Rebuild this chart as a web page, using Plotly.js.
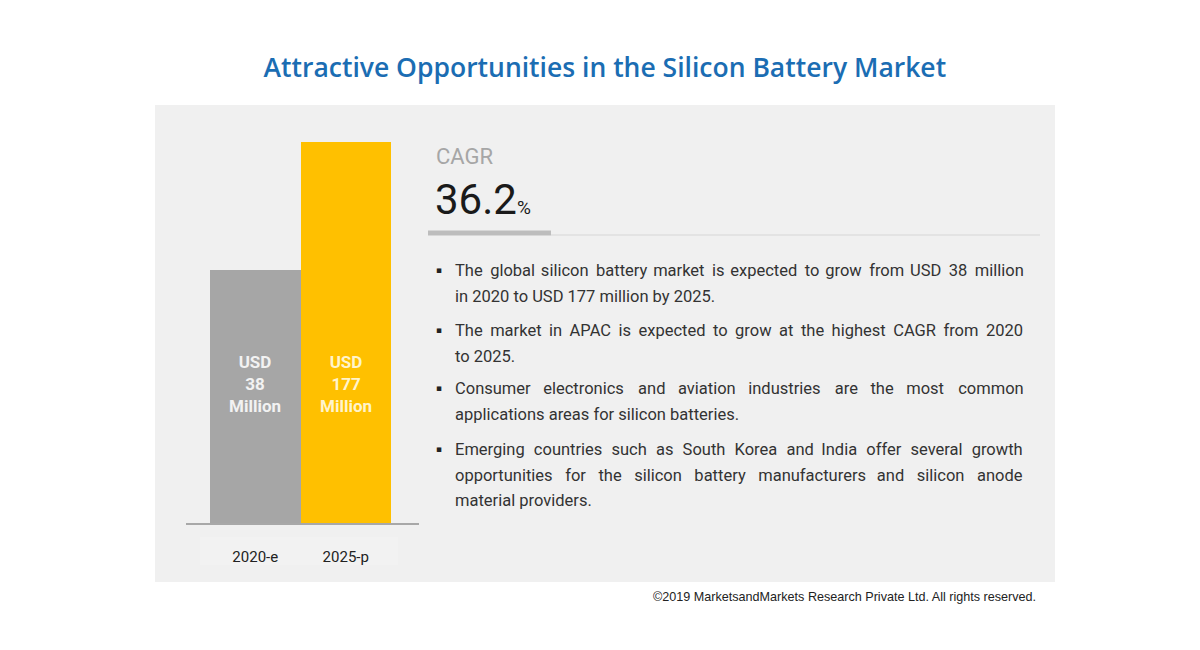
<!DOCTYPE html>
<html>
<head>
<meta charset="utf-8">
<script src="https://cdn.plot.ly/plotly-3.0.1.min.js"></script>
<style>html,body{margin:0;padding:0;background:#fff;}#chart{width:1200px;height:650px;}</style>
</head>
<body>
<div id="chart"></div>
<script>
// ---- data ----
const years = ["2020-e", "2025-p"];
const marketUSDm = [38, 177];
const barColors = ["#a6a6a6", "#ffc000"];
const cagrLabel = "CAGR";
const cagrValue = "36.2";
const bulletLines = [
  ["The global silicon battery market is expected to grow from USD 38 million", "in 2020 to USD 177 million by 2025."],
  ["The market in APAC is expected to grow at the highest CAGR from 2020", "to 2025."],
  ["Consumer electronics and aviation industries are the most common", "applications areas for silicon batteries."],
  ["Emerging countries such as South Korea and India offer several growth", "opportunities for the silicon battery manufacturers and silicon anode", "material providers."]
];
const titleText = "Attractive Opportunities in the Silicon Battery Market";
const sourceText = "©2019 MarketsandMarkets Research Private Ltd. All rights reserved.";

// ---- helpers ----
const W = 1200, H = 650;
const px = x => x / W;
const py = y => 1 - y / H;
const bodyFont = "Roboto";
const bodySize = 16.5;

// justify a line to a target pixel width by widening the word gaps
const cvs = document.createElement("canvas").getContext("2d");
cvs.font = bodySize + "px " + bodyFont;
function justify(line, target) {
  const words = line.split(" ");
  const gaps = words.length - 1;
  if (gaps < 1) return line;
  const base = cvs.measureText(line).width;
  const extra = target - base;
  if (extra <= 0) return line;
  const hair = cvs.measureText("\u200A").width || 1;
  let out = words[0], acc = 0;
  for (let i = 1; i < words.length; i++) {
    const want = extra * i / gaps;
    const n = Math.max(0, Math.round((want - acc) / hair));
    acc += n * hair;
    out += " " + "\u200A".repeat(n) + words[i];
  }
  return out;
}

const trace = {
  type: "bar",
  x: years,
  y: marketUSDm,
  marker: { color: barColors, line: { width: 0 } },
  hoverinfo: "x+y",
  showlegend: false
};

const annotations = [];
// bar value labels
years.forEach((yr, i) => {
  annotations.push({
    xref: "x", yref: "paper", x: yr, y: py(384),
    text: "USD<br>" + marketUSDm[i] + "<br>Million",
    showarrow: false, xanchor: "center", yanchor: "middle",
    font: { family: "Roboto", size: 17, color: i === 0 ? "#f2f2f2" : "#fff4cc", weight: 700 },
    align: "center"
  });
});
// CAGR
annotations.push({ xref: "paper", yref: "paper", x: px(434), y: py(156), text: cagrLabel,
  showarrow: false, xanchor: "left", yanchor: "middle",
  font: { family: "Roboto", size: 22, color: "#a6a6a6" } });
annotations.push({ xref: "paper", yref: "paper", x: px(433), y: py(199),
  text: cagrValue + "<span style='font-size:19px'>%</span>",
  showarrow: false, xanchor: "left", yanchor: "middle",
  font: { family: "Roboto", size: 42, color: "#1a1a1a" } });
// bullets
const lineYs = [[270, 296], [330, 356], [388, 414], [449, 475, 500]];
const textLeft = 453, textRight = 1021;
bulletLines.forEach((lines, b) => {
  annotations.push({ xref: "paper", yref: "paper", x: px(439), y: py(lineYs[b][0]),
    text: "▪", showarrow: false, xanchor: "center", yanchor: "middle",
    font: { family: "DejaVu Sans", size: 9, color: "#222" } });
  lines.forEach((t, j) => {
    const last = j === lines.length - 1;
    annotations.push({ xref: "paper", yref: "paper", x: px(textLeft), y: py(lineYs[b][j]),
      text: last ? t : justify(t, textRight - textLeft), showarrow: false, xanchor: "left", yanchor: "middle",
      font: { family: bodyFont, size: bodySize, color: "#333" } });
  });
});
// source
annotations.push({ xref: "paper", yref: "paper", x: px(1038), y: py(597), text: sourceText,
  showarrow: false, xanchor: "right", yanchor: "middle",
  font: { family: "'Liberation Sans', Arial, sans-serif", size: 12.6, color: "#222" } });

const shapes = [
  { type: "rect", xref: "paper", yref: "paper", x0: px(155), x1: px(1055), y0: py(582), y1: py(105),
    fillcolor: "#f0f0f0", line: { width: 0 }, layer: "below" },
  { type: "rect", xref: "paper", yref: "paper", x0: px(200), x1: px(398), y0: py(565), y1: py(537),
    fillcolor: "#f2f2f2", line: { width: 0 }, layer: "below" },
  { type: "line", xref: "paper", yref: "paper", x0: px(186), x1: px(419), y0: py(524), y1: py(524),
    line: { color: "#a8a8a8", width: 2 } },
  { type: "line", xref: "paper", yref: "paper", x0: px(428), x1: px(551), y0: py(233), y1: py(233),
    line: { color: "#bdbdbd", width: 5 } },
  { type: "line", xref: "paper", yref: "paper", x0: px(551), x1: px(1040), y0: py(235), y1: py(235),
    line: { color: "#d6d6d6", width: 1.2 } }
];

const layout = {
  width: W, height: H,
  margin: { l: 0, r: 0, t: 0, b: 0 },
  paper_bgcolor: "#ffffff",
  plot_bgcolor: "rgba(0,0,0,0)",
  bargap: 0,
  title: { text: titleText, x: 0.504, xanchor: "center", y: py(68), yanchor: "middle",
    font: { family: "'Open Sans', sans-serif", size: 26.5, color: "#1b6db3", weight: 600 } },
  xaxis: {
    domain: [px(210), px(391)], range: [-0.5, 1.5], type: "category",
    showgrid: false, zeroline: false, showline: false,
    ticks: "outside", ticklen: 19, tickcolor: "rgba(0,0,0,0)",
    tickfont: { family: "Roboto", size: 15, color: "#222" }
  },
  yaxis: {
    type: "log", domain: [py(524), py(142)], range: [0.254, Math.log10(177)],
    visible: false, showgrid: false, zeroline: false
  },
  shapes: shapes,
  annotations: annotations
};

Plotly.newPlot("chart", [trace], layout, { displayModeBar: false, staticPlot: true });
</script>
</body>
</html>
